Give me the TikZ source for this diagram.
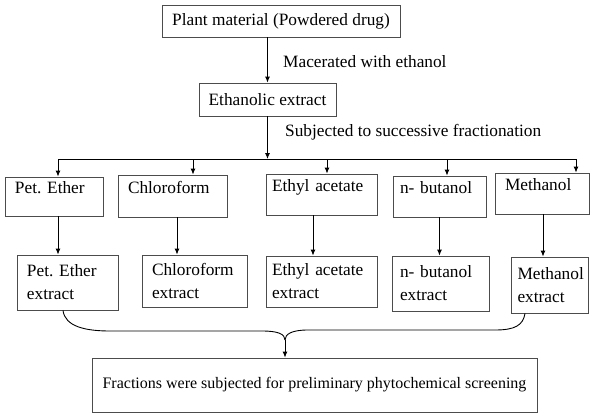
\documentclass[tikz,border=0pt]{standalone}
\usepackage{fontspec}
\setmainfont{Liberation Serif}
\usetikzlibrary{arrows.meta,calc}

\begin{document}
\begin{tikzpicture}[x=1pt, y=-1pt,
    font=\fontsize{17.3}{23}\selectfont\frenchspacing,
    box/.style={draw=black!70, line width=0.8pt, inner xsep=10pt, inner ysep=2pt, align=left},
    titlebox/.style={box, inner xsep=2pt, align=center},
    stepbox/.style={box, text height=11pt, text depth=17pt},
    flow/.style={line width=0.9pt, -{Latex[length=6pt,width=5pt]}},
    wire/.style={line width=0.9pt}]
    \useasboundingbox (0,0) rectangle (603,420);

    % Extraction
    \node[titlebox, minimum width=238pt, minimum height=32pt] (plant) at (281,21) {Plant material (Powdered drug)};
    \node[titlebox, minimum width=137pt, minimum height=33pt] (eth) at (267.5,99.5) {Ethanolic extract};
    \node[anchor=west, inner sep=0pt] (mac) at (283,62) {Macerated with ethanol};
    \node[anchor=west, inner sep=0pt] (sub) at (285,132) {Subjected to successive fractionation};

    % Solvents
    \node[stepbox, text width=78pt, minimum height=39pt] (pet) at (54,196.5) {Pet. Ether};
    \node[stepbox, text width=89pt, minimum height=42pt] (chl) at (172.5,196) {Chloroform};
    \node[stepbox, inner xsep=6pt, text width=99pt, minimum height=41pt] (ety) at (321.5,194.5) {Ethyl acetate};
    \node[stepbox, inner xsep=7pt, text width=79pt, minimum height=41pt] (but) at (439.5,196.5) {n- butanol};
    \node[stepbox, text width=74pt, minimum height=41pt] (met) at (542,193.5) {Methanol};

    % Extracts
    \node[box, text width=81pt, minimum height=55pt] (petx) at (67.5,282.5) {Pet. Ether\\extract};
    \node[box, text width=85pt, minimum height=52pt] (chlx) at (194.5,281) {Chloroform\\extract};
    \node[box, inner xsep=6pt, text width=99pt, minimum height=51pt] (etyx) at (321.5,281.5) {Ethyl acetate\\extract};
    \node[box, inner xsep=8pt, text width=81pt, minimum height=55pt] (butx) at (440.5,283.5) {n- butanol\\extract};
    \node[box, inner xsep=6.5pt, text width=64pt, minimum height=56pt] (metx) at (549.5,285) {Methanol\\extract};

    \node[titlebox, font=\fontsize{16}{18}\selectfont, minimum width=445pt, minimum height=54pt] (fin) at (314.5,385) {Fractions were subjected for preliminary phytochemical screening};

    % Main line
    \draw[flow] (eth.north |- plant.south) -- (eth.north);
    \coordinate (bar) at (267,159);
    \draw[flow] (eth.south) -- (eth.south |- bar);

    \coordinate (petin) at ([xshift=4pt]pet.north);
    \coordinate (chlin) at ([xshift=20.5pt]chl.north);
    \coordinate (etyin) at ([xshift=5.5pt]ety.north);
    \coordinate (butin) at ([xshift=7.5pt]but.north);
    \coordinate (metin) at ([xshift=34pt]met.north);
    \draw[wire] (petin |- bar) -- (metin |- bar);
    \draw[flow] (petin |- bar) -- (petin);
    \draw[flow] (chlin |- bar) -- (chlin);
    \draw[flow] (etyin |- bar) -- (etyin);
    \draw[flow] (butin |- bar) -- (butin);
    \draw[flow] (metin |- bar) -- (metin);

    % Solvent to extract
    \coordinate (petout) at ([xshift=4pt]pet.south);
    \coordinate (chlout) at ([xshift=4.5pt]chl.south);
    \coordinate (etyout) at ([xshift=-8.5pt]ety.south);
    \draw[flow] (petout) -- (petout |- petx.north);
    \draw[flow] (chlout) -- (chlout |- chlx.north);
    \draw[flow] (etyout) -- (etyout |- etyx.north);
    \draw[flow] (but.south) -- (but.south |- butx.north);
    \draw[flow] ([xshift=1pt]met.south) -- ([xshift=1pt]met.south |- metx.north);

    % Brace to screening
    \coordinate (meet) at (285,340);
    \draw[wire] ([xshift=-4.5pt]petx.south) .. controls +(2,16) and +(-25,0) .. (110,331) -- (262,331) .. controls +(16,0) and +(0,-6) .. (meet);
    \draw[wire] ([xshift=-24.5pt]metx.south) .. controls +(-2,12) and +(20,0) .. (495,330) -- (308,330) .. controls +(-16,0) and +(0,-6) .. (meet);
    \draw[flow] (meet) -- (meet |- fin.north);
\end{tikzpicture}
\end{document}
